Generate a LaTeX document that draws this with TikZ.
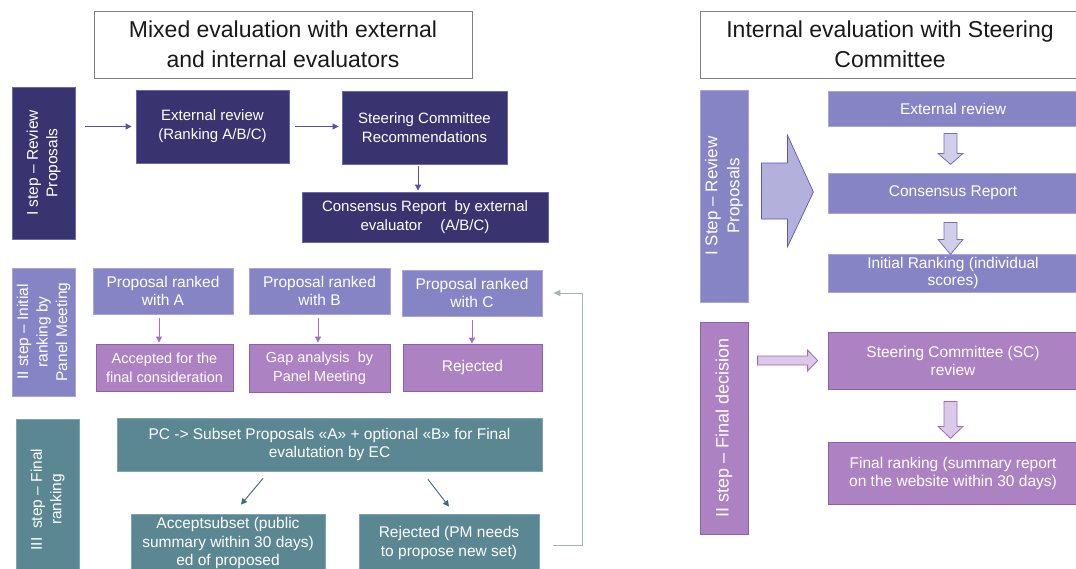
\documentclass[tikz,border=0pt]{standalone}
\usepackage{fontspec}
\setmainfont{Liberation Sans}
\usetikzlibrary{calc,arrows.meta}

\definecolor{navyfill}{HTML}{393470}
\definecolor{navyline}{HTML}{6A66B2}
\definecolor{lavfill}{HTML}{8784C6}
\definecolor{lavline}{HTML}{A9A5DC}
\definecolor{purfill}{HTML}{AD82C3}
\definecolor{purline}{HTML}{8E5FAE}
\definecolor{tealfill}{HTML}{5A8792}
\definecolor{tealline}{HTML}{7FA3B2}
\definecolor{bluearrow}{HTML}{5550A8}
\definecolor{purarrow}{HTML}{A46FC4}
\definecolor{tealarrow}{HTML}{3F6B7E}
\definecolor{fbgrey}{HTML}{A5B3B3}
\definecolor{titleline}{HTML}{7F7F7F}
\definecolor{bigarrowfill}{HTML}{B3B0DC}
\definecolor{bigarrowline}{HTML}{5D58B0}
\definecolor{dnarrowfill}{HTML}{D0CEE8}
\definecolor{dnarrowline}{HTML}{7470B8}
\definecolor{parrowfill}{HTML}{DCC8E8}
\definecolor{parrowline}{HTML}{9A6CB8}

\tikzset{
  base/.style={rectangle, inner sep=2pt, align=center, text=white, line width=0.8pt},
  titlebox/.style={base, text=black!90, draw=titleline, fill=white,
    font=\fontsize{23}{30}\selectfont},
  navybox/.style={base, fill=navyfill, draw=navyline, font=\fontsize{15}{19}\selectfont},
  lavbox/.style={base, fill=lavfill, draw=lavline, font=\fontsize{15.5}{18}\selectfont},
  purbox/.style={base, fill=purfill, draw=purline, font=\fontsize{14.5}{19}\selectfont},
  tealbox/.style={base, fill=tealfill, draw=tealline, font=\fontsize{15.5}{18.5}\selectfont},
  rlavbox/.style={base, fill=lavfill, draw=lavline, font=\fontsize{15.5}{17}\selectfont},
  rpurbox/.style={base, fill=purfill, draw=purline, font=\fontsize{15.5}{18}\selectfont},
  sidelabel/.style={rotate=90, font=\fontsize{15.5}{19.5}\selectfont},
  arrbase/.style={line width=0.9pt, -{Triangle[length=6pt,width=6pt]}},
  barr/.style={arrbase, draw=bluearrow, fill=bluearrow},
  parr/.style={arrbase, draw=purarrow, fill=purarrow},
  tarr/.style={arrbase, draw=tealarrow, fill=tealarrow},
  fbline/.style={line width=0.9pt, draw=fbgrey, -{Triangle[length=7pt,width=6pt]}},
  bigblock/.style={fill=bigarrowfill, draw=bigarrowline, line width=0.7pt},
  dnblock/.style={fill=dnarrowfill, draw=dnarrowline, line width=0.8pt},
  pblock/.style={fill=parrowfill, draw=parrowline, line width=0.8pt},
}

\begin{document}
\begin{tikzpicture}[x=1pt,y=-1pt]
\useasboundingbox (0,0) rectangle (1076,568);
\clip (0,0) rectangle (1076,568);
\fill[white] (0,0) rectangle (1076,568);

% ---------------- mixed evaluation ----------------
\node[titlebox, minimum width=378pt, minimum height=67pt] (t1) at (283,44.5)
  {Mixed evaluation with external\\and internal evaluators};

% side labels are rotated: their south anchor lies on the right-hand edge
\node[navybox, sidelabel, minimum width=152pt, minimum height=63pt] (s1) at (43.5,163)
  {I step -- Review\\Proposals};
\node[navybox, minimum width=153pt, minimum height=73pt] (ext) at (212.5,126.5)
  {External review\\(Ranking A/B/C)};
\node[navybox, minimum width=165pt, minimum height=73pt] (sc) at (424.5,127.5)
  {Steering Committee\\Recommendations};
\node[navybox, minimum width=246pt, minimum height=50pt] (cons) at (425,217)
  {Consensus Report\ \ by external\\evaluator\hspace{18pt}(A/B/C)};

\draw[barr] ($(s1.south |- ext.west)+(10,0)$) -- ($(ext.west)+(-4,0)$);
\draw[barr] ($(ext.east)+(6,0)$) -- ($(ext.east -| sc.west)+(-3,0)$);
\draw[barr] ($(sc.south)+(-6.5,2)$) -- ($(cons.north)+(-7,-1)$);

\node[lavbox, sidelabel, minimum width=128pt, minimum height=63pt] (s2) at (43.5,332)
  {II step -- Initial\\ranking by\\Panel Meeting};
\node[lavbox, minimum width=140pt, minimum height=46pt] (pa) at (163,291)
  {Proposal ranked\\with A};
\node[lavbox, minimum width=141pt, minimum height=46pt] (pb) at (319.5,291)
  {Proposal ranked\\with B};
\node[lavbox, minimum width=140pt, minimum height=46pt] (pc) at (472,293)
  {Proposal ranked\\with C};
\node[purbox, minimum width=137pt, minimum height=47pt] (ra) at (164.5,367.5)
  {Accepted for the\\final consideration};
\node[purbox, minimum width=141pt, minimum height=48pt] (rb) at (319.5,368)
  {Gap analysis\ \ by\\Panel Meeting};
\node[purbox, minimum width=139pt, minimum height=47pt, font=\fontsize{15.5}{19}\selectfont] (rc) at (472.5,367.5)
  {Rejected};

\draw[parr] ($(pa.south)+(-4,4)$) -- ($(ra.north)+(-5.5,-1)$);
\draw[parr] ($(pb.south)+(-1.5,4)$) -- ($(rb.north)+(-1.5,-1)$);
\draw[parr] ($(pc.south)+(0,4)$) -- ($(rc.north)+(-0.5,0)$);

\node[tealbox, sidelabel, minimum width=161pt, minimum height=63pt] (s3) at (47.5,499.5)
  {III~~step -- Final\\ranking};
\node[tealbox, minimum width=425pt, minimum height=53pt] (pcx) at (329.5,444.5)
  {PC -> Subset Proposals «A» + optional «B» for Final\\evalutation by EC};
\node[tealbox, minimum width=194pt, minimum height=58pt] (acc) at (228,543)
  {Acceptsubset (public\\summary within 30 days)\\ed of proposed};
\node[tealbox, minimum width=180pt, minimum height=58pt] (rpm) at (449,543)
  {Rejected (PM needs\\to propose new set)};

\draw[tarr] ($(pcx.south)+(-66.5,7)$) -- ($(acc.north)+(13,-9)$);
\draw[tarr] ($(pcx.south)+(98.5,8)$) -- ($(rpm.north)+(0,-7)$);
\draw[fbline] ($(rpm.east)+(14,2)$) -- ++(29,0) |- ($(pc.east)+(11,0)$);

% ---------------- internal evaluation ----------------
\node[titlebox, minimum width=380pt, minimum height=67pt] (t2) at (890,44.5)
  {Internal evaluation with Steering\\Committee};

\node[rlavbox, sidelabel, minimum width=212pt, minimum height=48pt,
  font=\fontsize{17}{22}\selectfont] (r1) at (724,196)
  {I Step -- Review\\Proposals};
\node[rlavbox, minimum width=250pt, minimum height=35pt] (e1) at (953,108.5)
  {External review};
\node[rlavbox, minimum width=250pt, minimum height=40pt] (e2) at (953,193)
  {Consensus Report};
\node[rlavbox, minimum width=250pt, minimum height=38pt] (e3) at (953,273)
  {Initial Ranking (individual\\scores)};

\node[rpurbox, sidelabel, minimum width=212pt, minimum height=48pt,
  font=\fontsize{18}{22}\selectfont] (r2) at (724,428)
  {II step -- Final decision};
\node[rpurbox, minimum width=250pt, minimum height=57pt] (f1) at (953,360.5)
  {Steering Committee (SC)\\review};
\node[rpurbox, minimum width=250pt, minimum height=62pt] (f2) at (953,473)
  {Final ranking (summary report\\on the website within 30 days)};

% block arrows
\begin{scope}[shift={(r1.south)}]
  \draw[bigblock] (13,-33) -- (39,-33) -- (39,-61) -- (65,-4) -- (39,51)
    -- (39,23) -- (13,23) -- cycle;
\end{scope}
\begin{scope}[shift={(e1.south)}]
  \draw[dnblock] (-9,7) -- (4,7) -- (4,27) -- (10,27) -- (-2.5,38)
    -- (-15,27) -- (-9,27) -- cycle;
\end{scope}
\begin{scope}[shift={(e2.south)}]
  \draw[dnblock] (-9,9) -- (4,9) -- (4,26) -- (10,26) -- (-2.5,41)
    -- (-15,26) -- (-9,26) -- cycle;
\end{scope}
\begin{scope}[shift={(f1.west)}]
  \draw[pblock] (-70,-4.5) -- (-20,-4.5) -- (-20,-10.5) -- (-10,0)
    -- (-20,10.5) -- (-20,4.5) -- (-70,4.5) -- cycle;
\end{scope}
\begin{scope}[shift={(f1.south)}]
  \draw[pblock] (-9,12) -- (4,12) -- (4,37) -- (10,37) -- (-2.5,49)
    -- (-15,37) -- (-9,37) -- cycle;
\end{scope}
\end{tikzpicture}
\end{document}
